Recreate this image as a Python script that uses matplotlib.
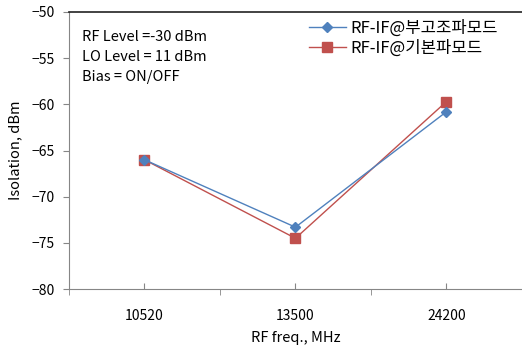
import numpy as np
import matplotlib.pyplot as plt
from matplotlib.ticker import FixedLocator

plt.rcParams['font.family'] = ['Noto Sans CJK KR', 'DejaVu Sans']

freqs = ['10520', '13500', '24200']
harmonic_mode = [-66.0, -73.3, -60.8]   # RF-IF@부고조파모드
fundamental_mode = [-66.0, -74.5, -59.7]  # RF-IF@기본파모드

blue = '#4F81BD'
red = '#C0504D'
axis_gray = '#868686'

fig = plt.figure(figsize=(5.22, 3.5), dpi=100)
ax = fig.add_axes([0.132, 0.174, 0.868, 0.792])

x = np.arange(len(freqs))
ax.plot(x, harmonic_mode, color=blue, lw=1.0, marker='D', ms=5.5,
        label='RF-IF@부고조파모드', zorder=3)
ax.plot(x, fundamental_mode, color=red, lw=1.0, marker='s', ms=6.5,
        label='RF-IF@기본파모드', zorder=2)

ax.set_xlim(-0.5, 2.5)
ax.set_ylim(-80, -50)
ax.set_yticks(np.arange(-80, -49, 5))

# category labels sit on inward ticks; outward ticks mark category boundaries
ax.set_xticks(x)
ax.set_xticklabels(freqs)
ax.xaxis.set_minor_locator(FixedLocator([-0.5, 0.5, 1.5, 2.5]))
ax.tick_params(axis='x', which='major', direction='in', length=4,
               color=axis_gray, pad=14, labelsize=10)
ax.tick_params(axis='x', which='minor', direction='out', length=4,
               color=axis_gray)
ax.tick_params(axis='y', direction='out', length=4, color=axis_gray,
               pad=6, labelsize=10)

for side in ('left', 'bottom'):
    ax.spines[side].set_color(axis_gray)
ax.spines['right'].set_visible(False)
ax.spines['top'].set_color('#222222')
ax.spines['top'].set_linewidth(1.2)

ax.set_xlabel('RF freq., MHz', fontsize=10.5, labelpad=6)
ax.set_ylabel('Isolation, dBm', fontsize=10.5, labelpad=7)

ax.text(0.03, 0.935, 'RF Level =-30 dBm\nLO Level = 11 dBm\nBias = ON/OFF',
        transform=ax.transAxes, ha='left', va='top', fontsize=10.5,
        linespacing=1.55)

ax.legend(loc='upper left', bbox_to_anchor=(0.515, 0.995), frameon=False,
          fontsize=12, handlelength=2.2, handletextpad=0.3,
          labelspacing=0.15, borderaxespad=0)

fig.savefig('out.png', dpi=100)
